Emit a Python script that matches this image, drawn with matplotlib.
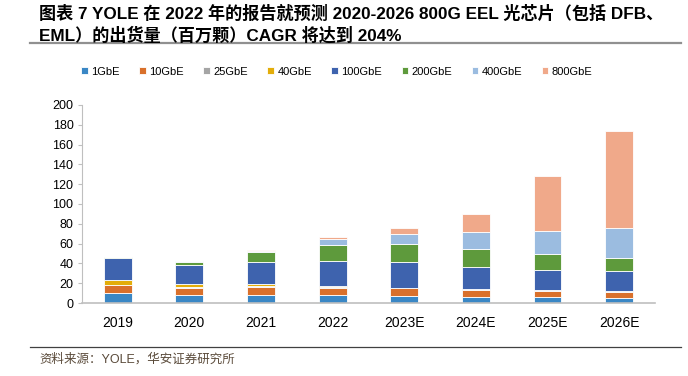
import matplotlib
matplotlib.use('Agg')
import matplotlib.pyplot as plt
import numpy as np

plt.rcParams['font.family'] = ['Liberation Sans', 'Noto Sans CJK SC', 'DejaVu Sans']

# categories and series (millions of units)
years = ['2019', '2020', '2021', '2022', '2023E', '2024E', '2025E', '2026E']
series_names = ['1GbE', '10GbE', '25GbE', '40GbE', '100GbE', '200GbE', '400GbE', '800GbE']
g1 = [10.0, 8.5, 8.5, 7.7, 7.4, 6.4, 5.7, 5.4]
g10 = [8.5, 7.0, 8.0, 7.8, 7.4, 7.0, 6.8, 6.0]
g25 = [0.0, 1.0, 0.5, 1.0, 0.4, 0.5, 0.4, 0.5]
g40 = [4.5, 2.5, 2.0, 1.0, 0.4, 0.2, 0.1, 0.1]
g100 = [22.5, 19.0, 22.5, 24.5, 25.5, 22.0, 20.7, 20.0]
g200 = [0.5, 3.0, 10.0, 17.0, 18.5, 18.5, 15.5, 13.5]
g400 = [0.0, 1.0, 1.5, 5.5, 10.5, 17.0, 24.0, 30.3]
g800 = [0.0, 0.3, 0.8, 2.0, 6.0, 18.5, 55.0, 98.0]
colors = ['#3A87C5', '#D9702B', '#A5A5A5', '#E3AD0A', '#3E63AE', '#5E9A3C', '#9BBCE0', '#F0A98A']

title = ('图表 7 YOLE 在 2022 年的报告就预测 2020-2026 800G EEL 光芯片（包括 DFB、\n'
         'EML）的出货量（百万颗）CAGR 将达到 204%')
source = '资料来源：YOLE，华安证券研究所'

fig = plt.figure(figsize=(6.88, 3.76), dpi=100)
ax = fig.add_axes([0.119, 0.194, 0.833, 0.527])

x = np.arange(len(years))
bottom = np.zeros(len(years))
for name, vals, c in zip(series_names, [g1, g10, g25, g40, g100, g200, g400, g800], colors):
    ax.bar(x, vals, 0.39, bottom=bottom, color=c, label=name,
           edgecolor='white', linewidth=0.6)
    bottom += np.array(vals)

ax.set_xlim(-0.5, len(years) - 0.5)
ax.set_ylim(0, 200)
ax.set_yticks(range(0, 201, 20))
ax.set_xticks(x)
ax.set_xticklabels(years, fontsize=10)
ax.tick_params(axis='y', labelsize=9, length=3, color='#BFBFBF', pad=3)
ax.tick_params(axis='x', length=0, pad=9)
for s in ['top', 'right']:
    ax.spines[s].set_visible(False)
ax.spines['left'].set_color('#BFBFBF')
ax.spines['bottom'].set_color('#BFBFBF')
ax.spines['bottom'].set_linewidth(1.2)

ax.legend(ncol=8, loc='center', bbox_to_anchor=(0.445, 1.167), frameon=False,
          fontsize=8, handlelength=0.6, handleheight=0.6, handletextpad=0.3,
          columnspacing=1.75)

fig.text(0.056, 0.988, title, fontsize=12.3, fontweight='bold', va='top', ha='left',
         linespacing=1.3)
fig.add_artist(plt.Line2D([0.044, 0.99], [0.886, 0.886], color='#909090', linewidth=1.6))
fig.add_artist(plt.Line2D([0.044, 0.99], [0.077, 0.077], color='#404040', linewidth=0.9))
fig.text(0.058, 0.045, source, fontsize=9, color='#5A4A3A', va='center', ha='left')

fig.savefig('out.png', dpi=100)
